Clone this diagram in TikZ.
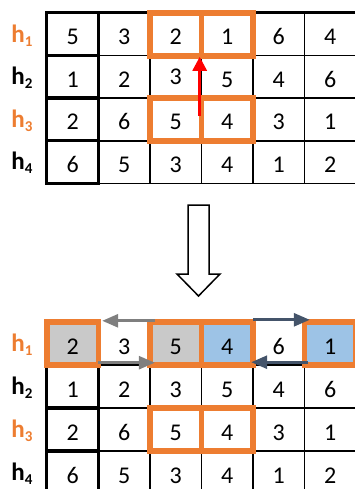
\documentclass[tikz,border=0pt]{standalone}
\usepackage{fontspec}
\setmainfont{Carlito}
\usetikzlibrary{arrows.meta}
\definecolor{orng}{HTML}{ED7D31}
\definecolor{garr}{HTML}{7F7F7F}
\definecolor{barr}{HTML}{44546A}
\definecolor{gfill}{HTML}{C9C9C9}
\definecolor{bfill}{HTML}{9DC3E6}
\tikzset{
  cell/.style={minimum width=51.5pt,minimum height=42.6pt,inner sep=0pt,text height=21pt,text depth=0pt,font=\fontsize{24}{24}\selectfont},
  lbl/.style={inner sep=0pt,font=\fontsize{25}{25}\selectfont\bfseries},
  thin/.style={line width=1.7pt,black},
  thick/.style={line width=3pt,black},
  obox/.style={line width=5.5pt,orng},
  garrow/.style={line width=2.8pt,garr,-{Triangle[length=16pt,width=13pt]}},
  barrow/.style={line width=2.8pt,barr,-{Triangle[length=16pt,width=13pt]}},
  rarrow/.style={line width=3pt,red,-{Triangle[length=14pt,width=14pt]}},
}
\newcommand{\hlab}[1]{h\raisebox{-4pt}{\fontsize{15}{15}\selectfont #1}}
\begin{document}
\begin{tikzpicture}[x=1pt,y=-1pt]
\useasboundingbox (0,0) rectangle (354,489);
% ---------- top grid ----------
\def\ty{13}\def\th{42.6}
\foreach \r/\vals in {1/{5,3,2,1,6,4},2/{1,2,{\raisebox{3pt}{3}},5,4,6},3/{2,6,5,4,3,1},4/{6,5,3,4,1,2}}{
  \foreach \v [count=\c] in \vals {
    \node[cell] (t-\r-\c) at ({47+51.5*(\c-0.5)},{\ty+\th*(\r-0.5)}) {\v};
  }
}
% grid lines
\foreach \r in {1,2,3}{\draw[thin] (98.5,{\ty+\th*\r}) -- (356,{\ty+\th*\r});}
\draw[thin] (98.5,{\ty+4*\th}) -- (356,{\ty+4*\th});
\foreach \c in {2,3,4,5,6}{\draw[thin] ({47+51.5*(\c-1)},\ty) -- ({47+51.5*(\c-1)},{\ty+4*\th});}
\draw[thick] (47,\ty) -- (356,\ty);
\foreach \r in {1,2,3,4}{\draw[thick] (t-\r-1.north west) rectangle (t-\r-1.south east);}
% orange boxes
\draw[obox] (t-1-3.north west) rectangle (t-1-3.south east);
\draw[obox] (t-1-4.north west) rectangle (t-1-4.south east);
\draw[obox] (t-3-3.north west) rectangle (t-3-3.south east);
\draw[obox] (t-3-4.north west) rectangle (t-3-4.south east);
% red arrow
\draw[rarrow] ([xshift=-2pt,yshift=3.5pt]t-3-3.east) -- ([xshift=-2pt,yshift=-1pt]t-1-3.south east);
% labels
\foreach \r/\col in {1/orng,2/black,3/orng,4/black}{
  \node[lbl,text=\col] (tl-\r) at (22,{\ty+\th*(\r-0.5)+1}) {\hlab{\r}};
}
% ---------- block arrow ----------
\draw[line width=1.5pt,fill=white] (188,205) -- (209,205) -- (209,274) -- (220,274) -- (198.5,296) -- (177,274) -- (188,274) -- cycle;
% ---------- bottom grid ----------
\def\by{322}\def\bh{43}
\foreach \r/\vals in {1/{2,3,5,4,6,1},2/{1,2,3,5,4,6},3/{2,6,5,4,3,1},4/{6,5,3,4,1,2}}{
  \foreach \v [count=\c] in \vals {
    \node[cell,minimum height=43pt] (b-\r-\c) at ({47+51.5*(\c-0.5)},{\by+\bh*(\r-0.5)}) {\v};
  }
}
% fills (text redrawn on top)
\fill[gfill] (b-1-1.north west) rectangle (b-1-1.south east);
\fill[gfill] (b-1-3.north west) rectangle (b-1-3.south east);
\fill[bfill] (b-1-4.north west) rectangle (b-1-4.south east);
\fill[bfill] (b-1-6.north west) rectangle (b-1-6.south east);
\foreach \c/\v in {1/2,3/5,4/4,6/1}{\node[cell] at (b-1-\c) {\v};}
\foreach \r in {1,2,3}{\draw[thin] (98.5,{\by+\bh*\r}) -- (356,{\by+\bh*\r});}
\foreach \c in {2,3,4,5,6}{\draw[thin] ({47+51.5*(\c-1)},{\by+\bh}) -- ({47+51.5*(\c-1)},{\by+4*\bh});}
\foreach \r in {2,3,4}{\draw[thick] (b-\r-1.north west) rectangle (b-\r-1.south east);}
% orange boxes
\foreach \c in {1,3,4,6}{\draw[obox] (b-1-\c.north west) rectangle (b-1-\c.south east);}
\draw[obox] (b-3-3.north west) rectangle (b-3-3.south east);
\draw[obox] (b-3-4.north west) rectangle (b-3-4.south east);
% swap arrows
\draw[garrow] ([xshift=5pt,yshift=1pt]b-1-3.north west) -- ([xshift=3.5pt,yshift=1pt]b-1-1.north east);
\draw[garrow] ([xshift=-0.5pt,yshift=2.5pt]b-1-1.south east) -- ([xshift=5pt,yshift=2.5pt]b-1-3.south west);
\draw[barrow] ([xshift=0pt,yshift=2pt]b-1-4.north east) -- ([xshift=5.5pt,yshift=2pt]b-1-6.north west);
\draw[barrow] ([xshift=3.5pt,yshift=3pt]b-1-6.south west) -- ([xshift=-2pt,yshift=3pt]b-1-4.south east);
% labels
\foreach \r/\col in {1/orng,2/black,3/orng,4/black}{
  \node[lbl,text=\col] (bl-\r) at (22,{\by+\bh*(\r-0.5)+1}) {\hlab{\r}};
}
\end{tikzpicture}
\end{document}
